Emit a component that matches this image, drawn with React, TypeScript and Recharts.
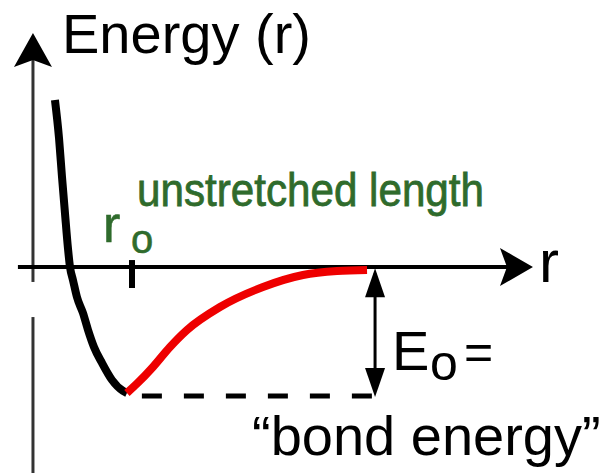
import { ComposedChart, Line, XAxis, YAxis, ReferenceLine, ReferenceDot } from "recharts";

// potential well: repulsive branch (black) and attractive branch (red)
const blackR = [0.222, 0.263, 0.293, 0.323, 0.354, 0.374, 0.404, 0.444, 0.505, 0.556, 0.616, 0.697, 0.798, 0.909, 0.949];
const blackE = [1.295, 1.0, 0.7, 0.42, 0.14, 0, -0.101, -0.233, -0.357, -0.488, -0.62, -0.744, -0.876, -0.961, -0.977];
const redR = [0.949, 1.05, 1.212, 1.384, 1.556, 1.889, 2.323, 2.727, 3.071, 3.374];
const redE = [-0.977, -0.905, -0.775, -0.62, -0.488, -0.31, -0.155, -0.062, -0.031, -0.023];

const R0 = 1.0; // unstretched length
const E0 = -1.0; // bond energy level
const E0_MARK_R = 3.455; // where the E0 double arrow stands

const blackData = blackR.map((r, i) => ({ r, E: blackE[i] }));
const redData = redR.map((r, i) => ({ r, E: redE[i] }));

const FONT = "'Liberation Sans', Arial, Helvetica, sans-serif";
const GREEN = "#2f6b2c";

// arrow head with its tip at (cx, cy)
const head = (dir: string, len: number, half: number, notch: number, fill = "#000") => (p: any) => {
  const { cx, cy } = p;
  let pts: number[][] = [];
  if (dir === "up") pts = [[cx, cy], [cx - half, cy + len], [cx, cy + len - notch], [cx + half, cy + len]];
  if (dir === "down") pts = [[cx, cy], [cx - half, cy - len], [cx, cy - len + notch], [cx + half, cy - len]];
  if (dir === "right") pts = [[cx, cy], [cx - len, cy - half], [cx - len + notch, cy], [cx - len, cy + half]];
  return <polygon points={pts.map((q) => q.join(",")).join(" ")} fill={fill} />;
};

export default function App() {
  return (
    <div style={{ position: "absolute", left: 0, top: 0, width: 611, height: 473, background: "#fff" }}>
      <ComposedChart width={611} height={473} margin={{ top: 0, right: 0, bottom: 0, left: 0 }}>
        <XAxis type="number" dataKey="r" domain={[-0.333, 5.838]} hide allowDataOverflow />
        <YAxis type="number" dataKey="E" domain={[-1.597, 2.07]} hide allowDataOverflow />

        {/* energy axis, broken below r axis */}
        <ReferenceLine segment={[{ x: 0, y: 1.75 }, { x: 0, y: -0.116 }]} stroke="#333" strokeWidth={3} />
        <ReferenceLine segment={[{ x: 0, y: -0.388 }, { x: 0, y: -1.597 }]} stroke="#333" strokeWidth={3} />
        <ReferenceDot x={0} y={1.814} r={0} shape={head("up", 34, 19, 7)} />

        {/* r axis */}
        <ReferenceLine segment={[{ x: -0.152, y: 0 }, { x: 4.98, y: 0 }]} stroke="#000" strokeWidth={4} />
        <ReferenceDot x={5.05} y={0} r={0} shape={head("right", 33, 19, 7)} />

        {/* r0 tick */}
        <ReferenceLine segment={[{ x: R0, y: 0.054 }, { x: R0, y: -0.163 }]} stroke="#000" strokeWidth={6} />

        {/* bond energy level and E0 arrow */}
        <ReferenceLine
          segment={[{ x: 1.1, y: E0 }, { x: E0_MARK_R, y: E0 }]}
          stroke="#000"
          strokeWidth={5}
          strokeDasharray="20 22"
        />
        <ReferenceLine segment={[{ x: E0_MARK_R, y: -0.05 }, { x: E0_MARK_R, y: E0 + 0.05 }]} stroke="#000" strokeWidth={3} />
        <ReferenceDot x={E0_MARK_R} y={-0.01} r={0} shape={head("up", 29, 10, 0)} />
        <ReferenceDot x={E0_MARK_R} y={E0 - 0.008} r={0} shape={head("down", 29, 10, 0)} />

        <Line
          data={blackData}
          dataKey="E"
          type="monotone"
          stroke="#000"
          strokeWidth={8}
          dot={false}
          activeDot={false}
          isAnimationActive={false}
        />
        <Line
          data={redData}
          dataKey="E"
          type="monotone"
          stroke="#ee0000"
          strokeWidth={8}
          dot={false}
          activeDot={false}
          isAnimationActive={false}
        />

        <text x={62} y={53} fontFamily={FONT} fontSize={56} fill="#000">Energy (r)</text>
        <text
          x={137}
          y={206}
          fontFamily={FONT}
          fontSize={46}
          fill={GREEN}
          stroke={GREEN}
          strokeWidth={0.8}
          textLength={347}
          lengthAdjust="spacingAndGlyphs"
        >
          unstretched length
        </text>
        <text x={103} y={242} fontFamily={FONT} fontSize={52} fill={GREEN} stroke={GREEN} strokeWidth={0.6}>r</text>
        <text x={131} y={253} fontFamily={FONT} fontSize={40} fill={GREEN} stroke={GREEN} strokeWidth={0.6}>o</text>
        <text x={539} y={282} fontFamily={FONT} fontSize={60} fill="#000">r</text>
        <text x={392} y={370} fontFamily={FONT} fontSize={56} fill="#000">E</text>
        <text x={430} y={380} fontFamily={FONT} fontSize={50} fill="#000">o</text>
        <text x={464} y={369} fontFamily={FONT} fontSize={50} fill="#000">=</text>
        <text x={252} y={455} fontFamily={FONT} fontSize={56} fill="#000">“bond energy”</text>
      </ComposedChart>
    </div>
  );
}
